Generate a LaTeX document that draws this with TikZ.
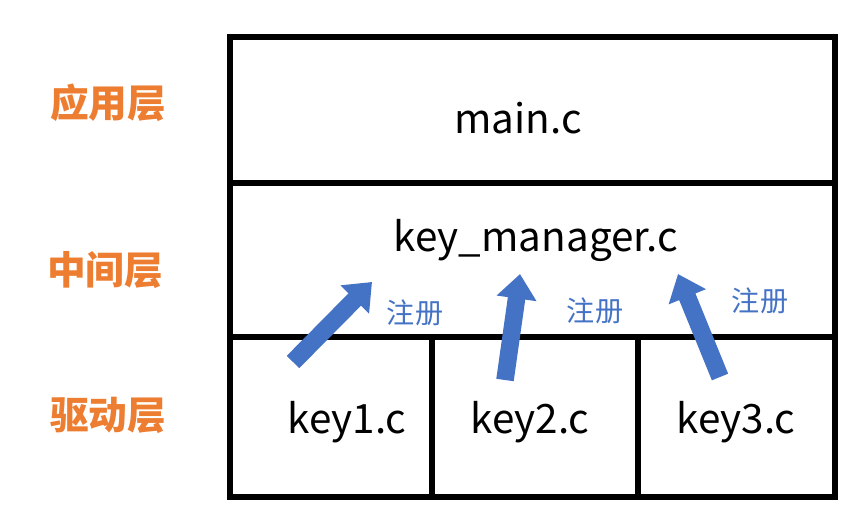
\documentclass[tikz,border=0pt]{standalone}
\usepackage{fontspec}
\setmainfont{Noto Sans CJK SC}
\usetikzlibrary{arrows.meta}
\definecolor{layerorange}{RGB}{237,125,49}
\definecolor{regblue}{RGB}{68,114,196}
\tikzset{
  frame/.style={line width=3.4pt},
  layer/.style={text=layerorange, font=\fontsize{22}{26}\selectfont\bfseries},
  file/.style={font=\fontsize{23}{27}\selectfont},
  reg/.style={text=regblue, font=\fontsize{16}{19}\selectfont},
  regarrow/.style={draw=regblue, line width=10pt, -{Triangle[width=22pt,length=14pt]}}
}
\begin{document}
\begin{tikzpicture}[x=0.02cm, y=-0.02cm]
  \useasboundingbox (0,0) rectangle (854,520);

  \draw[frame] (230,37) rectangle (835,497);
  \draw[frame] (230,183) -- (835,183);
  \draw[frame] (230,337) -- (835,337);
  \draw[frame] (432,337) -- (432,497);
  \draw[frame] (638,337) -- (638,497);

  \node[layer] (app) at (108,103) {应用层};
  \node[layer] (mid) at (105,270) {中间层};
  \node[layer] (drv) at (108,415) {驱动层};

  \node[file] (main) at (518,118) {main.c};
  \node[file] (mgr) at (536,240) {key\_manager.c};
  \node[file] (key1) at (347,422) {key1.c};
  \node[file] (key2) at (530,422) {key2.c};
  \node[file] (key3) at (736,422) {key3.c};

  \coordinate (s1) at (293,362);
  \coordinate (e1) at (372,282);
  \coordinate (s2) at (505,380);
  \coordinate (e2) at (520,274);
  \coordinate (s3) at (720,377);
  \coordinate (e3) at (678,274);
  \draw[regarrow] (s1) -- (e1);
  \draw[regarrow] (s2) -- (e2);
  \draw[regarrow] (s3) -- (e3);

  \node[reg] (r1) at (415,313) {注册};
  \node[reg] (r2) at (595,311) {注册};
  \node[reg] (r3) at (760,301) {注册};
\end{tikzpicture}
\end{document}
